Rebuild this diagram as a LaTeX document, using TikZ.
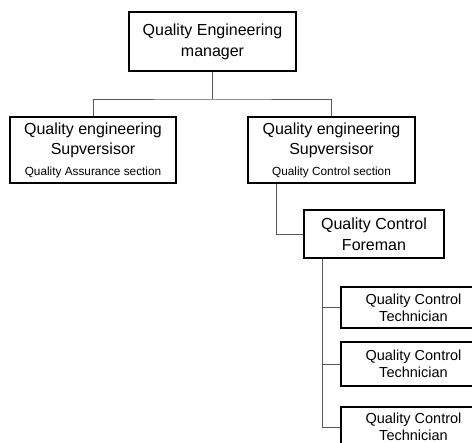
\documentclass[tikz,border=0pt]{standalone}
\usepackage{fontspec}
\setmainfont{Liberation Sans}
\usetikzlibrary{positioning}
\begin{document}
\begin{tikzpicture}[x=1pt,y=1pt,
  box/.style={draw=black,line width=1.6pt,rectangle,align=center,inner sep=0pt},
  bigbox/.style={box,line width=2.8pt},
  conn/.style={draw=black!65,line width=0.9pt},
  bigtxt/.style={font=\fontsize{16}{21}\selectfont},
  suptxt/.style={font=\fontsize{16}{20}\selectfont},
  techtxt/.style={font=\fontsize{14.5}{17}\selectfont}]
\useasboundingbox (0,0) rectangle (472,-443);
\clip (0,0) rectangle (472,-443);
\node[bigbox,bigtxt,minimum width=167pt,minimum height=59pt] (mgr) at (212.5,-41.5) {Quality Engineering\\manager};
\node[box,suptxt,minimum width=166pt,minimum height=66pt] (lsup) at (93,-150)
  {Quality engineering\\Supversisor\\[1pt]{\fontsize{11.8}{14}\selectfont Quality Assurance section}};
\node[box,suptxt,minimum width=167pt,minimum height=66pt] (rsup) at (331.5,-150)
  {Quality engineering\\Supversisor\\[1pt]{\fontsize{11.8}{14}\selectfont Quality Control section}};
\node[box,bigtxt,minimum width=140pt,minimum height=48pt] (fore) at (374,-234) {Quality Control\\Foreman};
\node[box,techtxt,minimum width=145pt,minimum height=41pt] (t1) at (413.5,-307.5) {Quality Control\\Technician};
\node[box,techtxt,minimum width=145pt,minimum height=44pt] (t2) at (413.5,-364) {Quality Control\\Technician};
\node[box,techtxt,minimum width=145pt,minimum height=40pt] (t3) at (413.5,-427) {Quality Control\\Technician};
\coordinate (j) at (212.5,-99);
\draw[conn] (mgr.south) -- (j);
\draw[conn] (lsup.north) |- (j) -| (rsup.north);
\draw[conn] ([xshift=29pt]rsup.south west) |- (fore.west);
\coordinate (fb) at ([xshift=19pt]fore.south west);
\draw[conn] (fb) |- (t3.west);
\draw[conn] (fb) |- (t1.west);
\draw[conn] (fb) |- (t2.west);
\end{tikzpicture}
\end{document}
